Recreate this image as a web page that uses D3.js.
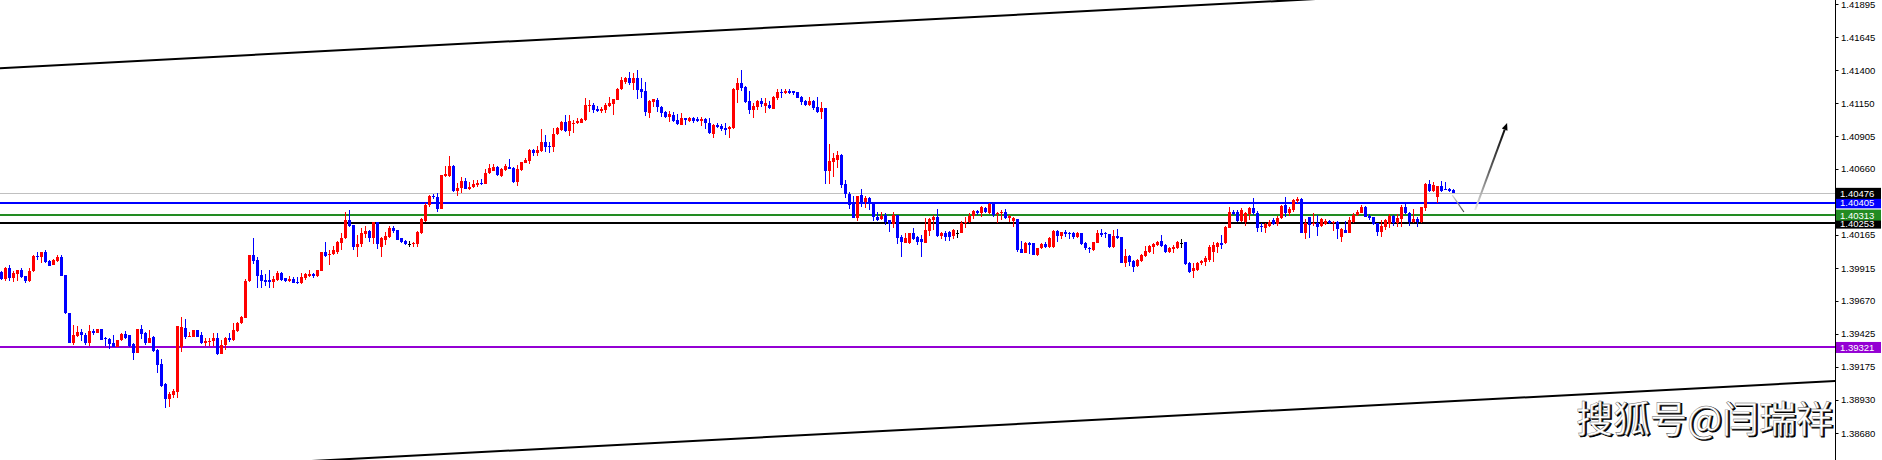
<!DOCTYPE html>
<html><head><meta charset="utf-8">
<script src="https://cdn.jsdelivr.net/npm/d3@7"></script>
<style>html,body{margin:0;padding:0;background:#fff;overflow:hidden}svg{display:block}</style>
</head><body>
<svg id="c" width="1882" height="460"></svg>
<script>
const open=[1.39888,1.39833,1.39913,1.39843,1.39871,1.39901,1.39856,1.39818,1.39893,1.40006,1.39996,1.40038,1.39968,1.39938,1.39968,1.40001,1.39863,1.39583,1.39351,1.39406,1.39438,1.39418,1.39351,1.39446,1.39431,1.39463,1.39393,1.39388,1.39356,1.39326,1.39376,1.39421,1.39413,1.39346,1.39281,1.39458,1.39431,1.39356,1.39401,1.39301,1.39196,1.39046,1.38933,1.38963,1.38988,1.39326,1.39468,1.39398,1.39401,1.39451,1.39413,1.39356,1.39363,1.39368,1.39393,1.39271,1.39338,1.39393,1.39376,1.39446,1.39501,1.39543,1.39818,1.40013,1.39976,1.39863,1.39826,1.39826,1.39813,1.39826,1.39881,1.39838,1.39818,1.39833,1.39811,
1.39805,1.39838,1.39855,1.39875,1.39855,1.39895,1.40038,1.40013,1.40020,1.40038,1.40105,1.40138,1.40275,1.40238,1.40075,1.40100,1.40175,1.40193,1.40138,1.40258,1.40075,1.40130,1.40150,1.40220,1.40200,1.40138,1.40118,1.40100,1.40095,1.40100,1.40180,1.40270,1.40388,1.40455,1.40450,1.40358,1.40605,1.40605,1.40680,1.40495,1.40513,1.40568,1.40508,1.40520,1.40540,1.40555,1.40545,1.40625,1.40645,1.40675,1.40605,1.40650,1.40675,1.40663,1.40563,1.40650,1.40705,1.40718,1.40800,1.40775,1.40795,1.40863,1.40830,1.40820,1.40920,1.40950,1.41013,1.40943,1.40995,1.41000,1.41005,1.41025,1.41130,1.41138,1.41105,
1.41093,1.41100,1.41130,1.41145,1.41175,1.41258,1.41313,1.41343,1.41300,1.41343,1.41258,1.41243,1.41080,1.41158,1.41175,1.41125,1.41088,1.41050,1.41063,1.41025,1.40988,1.41038,1.41020,1.41038,1.41033,1.41020,1.41030,1.41005,1.40920,1.40988,1.40980,1.40968,1.40958,1.40963,1.41250,1.41305,1.41275,1.41168,1.41100,1.41125,1.41168,1.41133,1.41138,1.41108,1.41193,1.41238,1.41225,1.41243,1.41243,1.41233,1.41200,1.41168,1.41138,1.41168,1.41120,1.41083,1.41113,1.40645,1.40713,1.40725,1.40763,1.40545,1.40470,1.40400,1.40293,1.40463,1.40413,1.40438,1.40413,1.40300,1.40283,1.40313,1.40275,1.40250,1.40313,
1.40146,1.40101,1.40101,1.40181,1.40146,1.40131,1.40106,1.40196,1.40276,1.40301,1.40156,1.40181,1.40188,1.40156,1.40181,1.40181,1.40251,1.40263,1.40306,1.40343,1.40331,1.40363,1.40331,1.40396,1.40318,1.40326,1.40338,1.40293,1.40271,1.40281,1.40058,1.40031,1.40106,1.40101,1.40013,1.40063,1.40093,1.40071,1.40071,1.40196,1.40156,1.40188,1.40181,1.40181,1.40151,1.40176,1.40106,1.40068,1.40051,1.40106,1.40181,1.40181,1.40168,1.40076,1.40156,1.40146,1.39956,1.40006,1.39971,1.39931,1.39968,1.40006,1.40038,1.40076,1.40088,1.40118,1.40088,1.40038,1.40056,1.40063,1.40106,1.40113,1.39951,1.39896,1.39901,
1.39951,1.39963,1.39976,1.40040,1.40071,1.40101,1.40101,1.40213,1.40338,1.40338,1.40268,1.40263,1.40318,1.40368,1.40331,1.40231,1.40218,1.40231,1.40276,1.40243,1.40288,1.40388,1.40326,1.40351,1.40421,1.40431,1.40181,1.40296,1.40243,1.40256,1.40231,1.40246,1.40268,1.40251,1.40263,1.40146,1.40201,1.40181,1.40263,1.40313,1.40331,1.40376,1.40306,1.40296,1.40251,1.40188,1.40226,1.40246,1.40306,1.40251,1.40281,1.40371,1.40331,1.40263,1.40281,1.40263,1.40363,1.40546,1.40496,1.40451,1.40531,1.40511,1.40506,1.40501];
const high=[1.39896,1.39926,1.39938,1.39896,1.39901,1.39913,1.39856,1.39913,1.40013,1.40038,1.40038,1.40051,1.39976,1.39983,1.40013,1.40013,1.39863,1.39583,1.39488,1.39481,1.39463,1.39426,1.39488,1.39463,1.39463,1.39463,1.39401,1.39393,1.39413,1.39376,1.39431,1.39443,1.39413,1.39356,1.39458,1.39488,1.39438,1.39451,1.39406,1.39306,1.39231,1.39051,1.38988,1.39013,1.39481,1.39546,1.39533,1.39438,1.39451,1.39451,1.39438,1.39393,1.39393,1.39431,1.39431,1.39376,1.39401,1.39426,1.39501,1.39513,1.39556,1.39833,1.40013,1.40143,1.39996,1.39901,1.39871,1.39901,1.39856,1.39896,1.39888,1.39843,1.39856,1.39851,1.39851,
1.39880,1.39880,1.39900,1.39880,1.39905,1.40038,1.40110,1.40050,1.40080,1.40118,1.40180,1.40333,1.40350,1.40238,1.40163,1.40213,1.40230,1.40200,1.40263,1.40258,1.40150,1.40188,1.40230,1.40230,1.40205,1.40143,1.40125,1.40120,1.40113,1.40193,1.40293,1.40400,1.40463,1.40470,1.40475,1.40613,1.40680,1.40755,1.40688,1.40555,1.40600,1.40593,1.40563,1.40575,1.40575,1.40580,1.40658,1.40695,1.40695,1.40683,1.40663,1.40693,1.40733,1.40675,1.40688,1.40713,1.40738,1.40805,1.40808,1.40830,1.40955,1.40913,1.40863,1.40963,1.40975,1.41020,1.41063,1.41063,1.41025,1.41038,1.41038,1.41188,1.41175,1.41155,1.41130,
1.41125,1.41150,1.41200,1.41180,1.41263,1.41350,1.41350,1.41388,1.41375,1.41400,1.41343,1.41313,1.41175,1.41183,1.41188,1.41130,1.41093,1.41093,1.41088,1.41068,1.41080,1.41043,1.41050,1.41050,1.41050,1.41050,1.41038,1.41043,1.40995,1.41000,1.40995,1.41005,1.40983,1.41268,1.41343,1.41400,1.41280,1.41243,1.41150,1.41175,1.41193,1.41193,1.41168,1.41205,1.41258,1.41255,1.41255,1.41258,1.41243,1.41238,1.41205,1.41175,1.41200,1.41175,1.41200,1.41163,1.41113,1.40845,1.40775,1.40793,1.40768,1.40575,1.40483,1.40455,1.40455,1.40505,1.40455,1.40450,1.40413,1.40333,1.40338,1.40325,1.40275,1.40338,1.40313,
1.40163,1.40176,1.40181,1.40213,1.40156,1.40163,1.40293,1.40293,1.40313,1.40358,1.40188,1.40196,1.40196,1.40206,1.40201,1.40268,1.40296,1.40326,1.40351,1.40351,1.40381,1.40376,1.40406,1.40406,1.40338,1.40351,1.40358,1.40313,1.40301,1.40281,1.40118,1.40113,1.40113,1.40106,1.40068,1.40101,1.40113,1.40151,1.40201,1.40201,1.40188,1.40201,1.40188,1.40188,1.40188,1.40181,1.40113,1.40076,1.40113,1.40201,1.40206,1.40188,1.40168,1.40201,1.40206,1.40146,1.40058,1.40013,1.39976,1.39981,1.40021,1.40083,1.40088,1.40106,1.40121,1.40163,1.40096,1.40076,1.40088,1.40118,1.40131,1.40113,1.39963,1.39951,1.39963,
1.39976,1.40003,1.40088,1.40113,1.40113,1.40163,1.40231,1.40376,1.40351,1.40351,1.40368,1.40338,1.40376,1.40438,1.40343,1.40251,1.40251,1.40276,1.40288,1.40306,1.40388,1.40451,1.40376,1.40431,1.40451,1.40438,1.40281,1.40301,1.40331,1.40313,1.40288,1.40281,1.40276,1.40268,1.40268,1.40213,1.40268,1.40301,1.40326,1.40351,1.40388,1.40381,1.40318,1.40301,1.40256,1.40276,1.40281,1.40318,1.40313,1.40318,1.40388,1.40406,1.40338,1.40356,1.40296,1.40376,1.40551,1.40576,1.40563,1.40531,1.40571,1.40563,1.40513,1.40506];
const low=[1.39826,1.39821,1.39821,1.39813,1.39821,1.39843,1.39806,1.39813,1.39888,1.39976,1.39951,1.39951,1.39933,1.39938,1.39963,1.39856,1.39571,1.39351,1.39338,1.39401,1.39368,1.39343,1.39333,1.39413,1.39426,1.39376,1.39333,1.39313,1.39321,1.39326,1.39371,1.39388,1.39326,1.39226,1.39276,1.39383,1.39343,1.39351,1.39288,1.39131,1.39026,1.38868,1.38876,1.38943,1.38943,1.39288,1.39388,1.39396,1.39396,1.39401,1.39346,1.39331,1.39331,1.39331,1.39263,1.39271,1.39301,1.39363,1.39371,1.39438,1.39496,1.39543,1.39813,1.39943,1.39768,1.39768,1.39781,1.39768,1.39768,1.39818,1.39818,1.39813,1.39813,1.39801,1.39793,
1.39800,1.39825,1.39850,1.39845,1.39850,1.39895,1.40000,1.39938,1.40013,1.40025,1.40050,1.40133,1.40225,1.40050,1.40000,1.40075,1.40145,1.40113,1.40100,1.40058,1.40000,1.40088,1.40145,1.40180,1.40125,1.40105,1.40090,1.40075,1.40075,1.40075,1.40175,1.40263,1.40375,1.40430,1.40338,1.40358,1.40600,1.40600,1.40488,1.40458,1.40475,1.40505,1.40500,1.40513,1.40525,1.40538,1.40545,1.40620,1.40640,1.40605,1.40600,1.40645,1.40655,1.40555,1.40533,1.40645,1.40700,1.40695,1.40755,1.40755,1.40788,1.40788,1.40775,1.40788,1.40913,1.40943,1.40938,1.40905,1.40930,1.40995,1.41000,1.41020,1.41088,1.41080,1.41088,
1.41075,1.41075,1.41125,1.41063,1.41175,1.41250,1.41295,1.41288,1.41250,1.41180,1.41188,1.41055,1.41038,1.41120,1.41088,1.41045,1.41038,1.41013,1.41013,1.40988,1.40988,1.40988,1.41013,1.41000,1.41013,1.40983,1.40958,1.40920,1.40893,1.40963,1.40945,1.40913,1.40893,1.40958,1.41155,1.41245,1.41150,1.41070,1.41043,1.41100,1.41120,1.41075,1.41105,1.41108,1.41175,1.41188,1.41218,1.41220,1.41213,1.41188,1.41138,1.41133,1.41130,1.41100,1.41075,1.41033,1.40545,1.40545,1.40600,1.40663,1.40513,1.40443,1.40355,1.40293,1.40268,1.40370,1.40368,1.40350,1.40270,1.40270,1.40275,1.40238,1.40188,1.40220,1.40100,
1.40001,1.40101,1.40096,1.40126,1.40088,1.40001,1.40101,1.40156,1.40201,1.40151,1.40133,1.40121,1.40121,1.40131,1.40138,1.40176,1.40213,1.40256,1.40281,1.40313,1.40301,1.40326,1.40318,1.40301,1.40251,1.40276,1.40281,1.40263,1.40226,1.40038,1.40031,1.40026,1.40021,1.40013,1.40006,1.40056,1.40068,1.40068,1.40063,1.40113,1.40131,1.40151,1.40131,1.40131,1.40138,1.40088,1.40051,1.40026,1.40046,1.40101,1.40151,1.40138,1.40063,1.40068,1.40131,1.39951,1.39926,1.39931,1.39888,1.39921,1.39963,1.40001,1.40026,1.40021,1.40081,1.40076,1.40031,1.40026,1.40031,1.40056,1.40068,1.39938,1.39881,1.39843,1.39896,
1.39938,1.39935,1.39963,1.39963,1.40026,1.40056,1.40096,1.40213,1.40313,1.40263,1.40263,1.40233,1.40276,1.40313,1.40188,1.40188,1.40176,1.40226,1.40238,1.40231,1.40283,1.40296,1.40306,1.40338,1.40401,1.40181,1.40131,1.40138,1.40233,1.40156,1.40226,1.40238,1.40243,1.40196,1.40131,1.40113,1.40176,1.40176,1.40256,1.40306,1.40326,1.40296,1.40276,1.40238,1.40156,1.40146,1.40201,1.40213,1.40231,1.40226,1.40226,1.40321,1.40231,1.40251,1.40226,1.40256,1.40346,1.40488,1.40488,1.40403,1.40488,1.40501,1.40483,1.40476];
const close=[1.39833,1.39918,1.39843,1.39881,1.39901,1.39851,1.39821,1.39893,1.40006,1.39996,1.40033,1.39963,1.39933,1.39976,1.40001,1.39856,1.39576,1.39356,1.39413,1.39438,1.39413,1.39351,1.39443,1.39431,1.39458,1.39376,1.39381,1.39346,1.39326,1.39376,1.39421,1.39393,1.39331,1.39281,1.39458,1.39421,1.39356,1.39393,1.39296,1.39188,1.39031,1.38933,1.38976,1.38993,1.39481,1.39471,1.39396,1.39406,1.39451,1.39401,1.39351,1.39368,1.39368,1.39393,1.39271,1.39338,1.39393,1.39376,1.39451,1.39506,1.39551,1.39818,1.40013,1.39968,1.39856,1.39818,1.39813,1.39813,1.39833,1.39881,1.39826,1.39818,1.39833,1.39806,1.39806,
1.39850,1.39870,1.39875,1.39855,1.39900,1.40038,1.40005,1.40020,1.40050,1.40108,1.40143,1.40275,1.40230,1.40075,1.40100,1.40180,1.40193,1.40138,1.40258,1.40100,1.40138,1.40155,1.40220,1.40193,1.40130,1.40113,1.40095,1.40100,1.40105,1.40188,1.40283,1.40388,1.40455,1.40445,1.40358,1.40613,1.40620,1.40680,1.40495,1.40518,1.40568,1.40508,1.40525,1.40545,1.40555,1.40545,1.40630,1.40663,1.40675,1.40613,1.40655,1.40683,1.40660,1.40560,1.40658,1.40713,1.40725,1.40800,1.40780,1.40800,1.40863,1.40825,1.40820,1.40920,1.40963,1.41013,1.40945,1.41020,1.41005,1.41020,1.41030,1.41138,1.41138,1.41100,1.41093,
1.41105,1.41138,1.41155,1.41180,1.41258,1.41325,1.41343,1.41300,1.41343,1.41250,1.41238,1.41088,1.41170,1.41180,1.41120,1.41080,1.41050,1.41068,1.41020,1.40995,1.41038,1.41025,1.41038,1.41020,1.41020,1.41033,1.41005,1.40925,1.40988,1.40970,1.40958,1.40950,1.40975,1.41258,1.41305,1.41268,1.41158,1.41100,1.41133,1.41168,1.41145,1.41155,1.41113,1.41200,1.41238,1.41225,1.41243,1.41230,1.41225,1.41193,1.41158,1.41138,1.41168,1.41113,1.41083,1.41113,1.40645,1.40718,1.40743,1.40763,1.40538,1.40468,1.40388,1.40293,1.40455,1.40413,1.40438,1.40413,1.40300,1.40280,1.40308,1.40263,1.40250,1.40313,1.40138,
1.40113,1.40138,1.40181,1.40131,1.40113,1.40113,1.40201,1.40281,1.40301,1.40156,1.40181,1.40151,1.40151,1.40201,1.40181,1.40256,1.40263,1.40308,1.40343,1.40326,1.40371,1.40338,1.40396,1.40313,1.40331,1.40338,1.40293,1.40306,1.40288,1.40051,1.40031,1.40101,1.40088,1.40013,1.40063,1.40093,1.40076,1.40138,1.40196,1.40156,1.40188,1.40171,1.40171,1.40151,1.40176,1.40096,1.40063,1.40056,1.40113,1.40181,1.40163,1.40171,1.40076,1.40156,1.40143,1.39956,1.40006,1.39963,1.39926,1.39976,1.40013,1.40046,1.40081,1.40093,1.40113,1.40081,1.40038,1.40063,1.40076,1.40113,1.40106,1.39946,1.39888,1.39913,1.39956,
1.39968,1.39988,1.40076,1.40088,1.40101,1.40088,1.40226,1.40338,1.40321,1.40268,1.40351,1.40331,1.40368,1.40326,1.40218,1.40221,1.40243,1.40263,1.40246,1.40293,1.40381,1.40326,1.40356,1.40426,1.40431,1.40181,1.40251,1.40238,1.40256,1.40226,1.40281,1.40268,1.40251,1.40263,1.40206,1.40206,1.40181,1.40276,1.40313,1.40338,1.40376,1.40301,1.40288,1.40246,1.40188,1.40231,1.40276,1.40306,1.40251,1.40288,1.40371,1.40331,1.40263,1.40281,1.40263,1.40371,1.40546,1.40496,1.40538,1.40531,1.40496,1.40503,1.40493,1.40476];

const levelValues=[1.40476,1.40405,1.40313,1.40253,1.39321];
const levelNames=["bid","blue","green","black","purple"];
const tickValues=[1.41895,1.41645,1.41400,1.41150,1.40905,1.40660,1.40165,1.39915,1.39670,1.39425,1.39175,1.38930,1.38680];
const channelTop=[[-0.375,1.41414],[325.1,1.41927]];
const channelBottom=[[77.375,1.38470],[458.375,1.39069]];
const pathPoints=[[362.7,1.40463],[365.6,1.40336]];
const arrowPoints=[[368.4,1.40351],[376.4,1.41003]];
const watermark="搜狐号@闫瑞祥";

const axisX=1835.5, W=1882, H=460;
const svg=d3.select("#c");
const x=d3.scaleLinear().domain([0,1]).range([1.5,5.5]);
const y=d3.scaleLinear().domain([1.38680,1.41895]).range([433,4]);

const defs=svg.append("defs");
defs.append("clipPath").attr("id","plot").append("rect").attr("x",0).attr("y",0).attr("width",1835).attr("height",H);

const plot=svg.append("g").attr("clip-path","url(#plot)");

// horizontal levels
const levelStyle={bid:{c:"#c0c0c0",w:1},blue:{c:"#0000ff",w:2},green:{c:"#228b22",w:2},black:{c:"#000000",w:2},purple:{c:"#9400d3",w:2}};
levelValues.forEach((v,k)=>{
  const s=levelStyle[levelNames[k]];
  plot.append("line").attr("x1",0).attr("x2",1835).attr("y1",y(v)).attr("y2",y(v))
    .attr("stroke",s.c).attr("stroke-width",s.w).attr("shape-rendering","crispEdges");
});

// channel lines (extended across plot)
function extLine(pts){
  const [a,b]=pts;
  const sl=(b[1]-a[1])/(b[0]-a[0]);
  const i0=x.invert(-5), i1=x.invert(1840);
  return [[i0,a[1]+sl*(i0-a[0])],[i1,a[1]+sl*(i1-a[0])]];
}
const lineGen=d3.line().x(d=>x(d[0])).y(d=>y(d[1]));
[channelTop,channelBottom].forEach(pts=>{
  plot.append("path").attr("d",lineGen(extLine(pts))).attr("fill","none").attr("stroke","#000").attr("stroke-width",2);
});

// candles
const data=open.map((o,i)=>({i,o,h:high[i],l:low[i],c:close[i]}));
const col=d=>d.c>d.o?"#ff0000":(d.c<d.o?"#0000ff":"#000000");
const cg=plot.append("g").attr("shape-rendering","crispEdges");
cg.selectAll("rect.w").data(data).join("rect").attr("class","w")
  .attr("x",d=>x(d.i)-0.5).attr("width",1)
  .attr("y",d=>y(d.h)).attr("height",d=>Math.max(1,y(d.l)-y(d.h)))
  .attr("fill",col);
cg.selectAll("rect.b").data(data).join("rect").attr("class","b")
  .attr("x",d=>x(d.i)-1.5).attr("width",3)
  .attr("y",d=>y(Math.max(d.o,d.c))).attr("height",d=>Math.max(1,y(Math.min(d.o,d.c))-y(Math.max(d.o,d.c))))
  .attr("fill",col);

// projection path and arrow
const p0=pathPoints, a0=arrowPoints;
const g1=defs.append("linearGradient").attr("id","gp").attr("gradientUnits","userSpaceOnUse")
  .attr("x1",x(p0[0][0])).attr("y1",y(p0[0][1])).attr("x2",x(p0[1][0])).attr("y2",y(p0[1][1]));
g1.append("stop").attr("offset","0").attr("stop-color","#d8d8d8");
g1.append("stop").attr("offset","1").attr("stop-color","#404040");
plot.append("path").attr("d",lineGen(p0)).attr("stroke","url(#gp)").attr("stroke-width",1.2).attr("fill","none");
const g2=defs.append("linearGradient").attr("id","ga").attr("gradientUnits","userSpaceOnUse")
  .attr("x1",x(a0[0][0])).attr("y1",y(a0[0][1])).attr("x2",x(a0[1][0])).attr("y2",y(a0[1][1]));
g2.append("stop").attr("offset","0").attr("stop-color","#e8e8e8");
g2.append("stop").attr("offset","0.45").attr("stop-color","#606060");
g2.append("stop").attr("offset","1").attr("stop-color","#000000");
const ax0=x(a0[0][0]),ay0=y(a0[0][1]),ax1=x(a0[1][0]),ay1=y(a0[1][1]);
const ang=Math.atan2(ay1-ay0,ax1-ax0);
const hl=7,hw=3;
const bx=ax1-hl*Math.cos(ang), by=ay1-hl*Math.sin(ang);
plot.append("line").attr("x1",ax0).attr("y1",ay0).attr("x2",bx).attr("y2",by)
  .attr("stroke","url(#ga)").attr("stroke-width",2);
plot.append("path").attr("d",`M${ax1},${ay1}L${bx-hw*Math.sin(ang)},${by+hw*Math.cos(ang)}L${bx+hw*Math.sin(ang)},${by-hw*Math.cos(ang)}Z`).attr("fill","#000");

// axis
svg.append("line").attr("x1",axisX).attr("x2",axisX).attr("y1",0).attr("y2",H).attr("stroke","#000").attr("stroke-width",1).attr("shape-rendering","crispEdges");
const tg=svg.append("g");
tickValues.forEach(v=>{
  tg.append("line").attr("x1",axisX).attr("x2",axisX+3).attr("y1",Math.round(y(v))+0.5).attr("y2",Math.round(y(v))+0.5).attr("stroke","#000");
  tg.append("text").attr("x",1841).attr("y",y(v)+3.5).text(v.toFixed(5))
    .attr("font-family","Liberation Sans, Arial, sans-serif").attr("font-size",9.5).attr("fill","#000");
});

// price labels
const labelBg={bid:"#000000",blue:"#0000ff",green:"#228b22",black:"#000000",purple:"#9400d3"};
[3,2,1,0,4].forEach(k=>{
  const v=levelValues[k], yy=y(v);
  svg.append("rect").attr("x",1836).attr("y",yy-5.5).attr("width",45).attr("height",11).attr("fill",labelBg[levelNames[k]]);
  svg.append("text").attr("x",1840).attr("y",yy+3.5).text(v.toFixed(5))
    .attr("font-family","Liberation Sans, Arial, sans-serif").attr("font-size",9.5).attr("fill","#fff");
});

// watermark
const wm=svg.append("g").attr("font-family","Noto Sans CJK SC, sans-serif").attr("font-size",37).attr("text-anchor","end");
wm.append("text").attr("x",1834.5).attr("y",434).text(watermark).attr("fill","#000").attr("stroke","#000").attr("stroke-width",1);
wm.append("text").attr("x",1833).attr("y",432.5).text(watermark).attr("fill","#fff").attr("stroke","#666").attr("stroke-width",0.4);
</script>
</body></html>
